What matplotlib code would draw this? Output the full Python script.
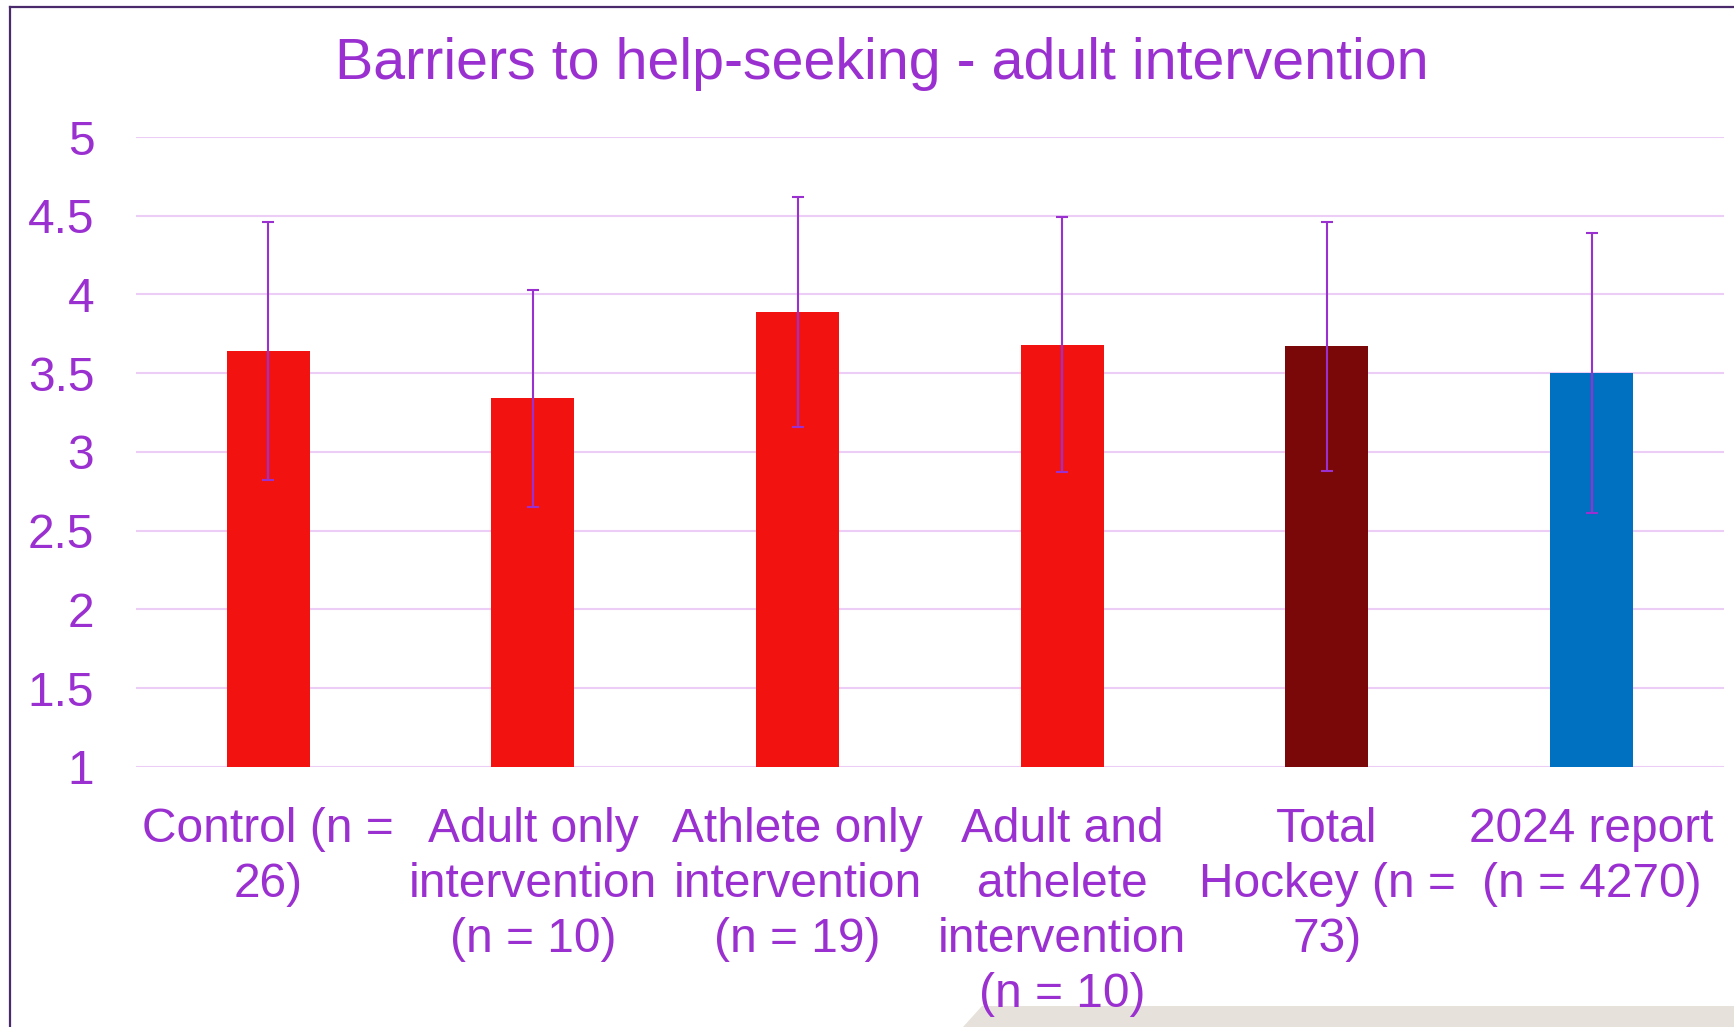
import numpy as np
import matplotlib.pyplot as plt
from matplotlib.lines import Line2D
from matplotlib.patches import Polygon
from matplotlib.ticker import FuncFormatter

plt.rcParams['font.family'] = ['Liberation Sans', 'DejaVu Sans']

# veriler
kategoriler = ['Control (n =\n26)',
               'Adult only\nintervention\n(n = 10)',
               'Athlete only\nintervention\n(n = 19)',
               'Adult and\nathelete\nintervention\n(n = 10)',
               'Total\nHockey (n =\n73)',
               '2024 report\n(n = 4270)']
ortalamalar = [3.64, 3.34, 3.89, 3.68, 3.67, 3.50]
hatalar = [0.82, 0.69, 0.73, 0.81, 0.79, 0.89]
renkler = ['#F21311', '#F21311', '#F21311', '#F21311', '#7B0808', '#0070C0']

mor = '#9B30D0'

fig = plt.figure(figsize=(17.34, 10.27), dpi=100)
ax = fig.add_axes([0.0784, 0.2532, 0.9158, 0.6134])
ax.set_facecolor('none')

# alttaki gri şekil (yazıların altında) ve çerçeve
fig.patches.append(Polygon([[963 / 1734, 0], [982 / 1734, 1 - 1006 / 1027], [1, 1 - 1006 / 1027], [1, 0]],
                           closed=True, transform=fig.transFigure, facecolor='#E6E1DA',
                           edgecolor='none', zorder=-5))
fig.lines.append(Line2D([10 / 1734, 10 / 1734], [0, 1 - 7 / 1027], transform=fig.transFigure,
                        color='#4B2A6B', linewidth=1.6))
fig.lines.append(Line2D([10 / 1734, 1], [1 - 7 / 1027, 1 - 7 / 1027], transform=fig.transFigure,
                        color='#4B2A6B', linewidth=1.6))

x = np.arange(len(kategoriler))
ax.bar(x, np.array(ortalamalar) - 1, bottom=1, width=0.314, color=renkler, zorder=2)
ax.errorbar(x, ortalamalar, yerr=hatalar, fmt='none', ecolor=mor, elinewidth=1.5,
            capsize=4.5, capthick=1.5, zorder=3)

ax.set_xlim(-0.5, 5.5)
ax.set_ylim(1, 5)
ax.set_yticks(np.arange(1, 5.01, 0.5))
ax.yaxis.set_major_formatter(FuncFormatter(lambda v, p: ('%g' % v)))
ax.grid(axis='y', color='#EBCDF5', linewidth=1.5, zorder=1)
ax.set_axisbelow(True)
for s in ax.spines.values():
    s.set_visible(False)

ax.set_xticks(x)
ax.set_xticklabels(kategoriler, fontsize=34.5, color=mor, linespacing=1.29)
ax.tick_params(axis='x', length=0, pad=28.5)
ax.tick_params(axis='y', length=0, pad=30, labelsize=34.5, labelcolor=mor)

fig.text(882 / 1734, 1 - 64 / 1027, 'Barriers to help-seeking - adult intervention',
         ha='center', va='center', fontsize=41.3, color=mor)

fig.savefig('out.png', dpi=100)
print("out.png kaydedildi")
